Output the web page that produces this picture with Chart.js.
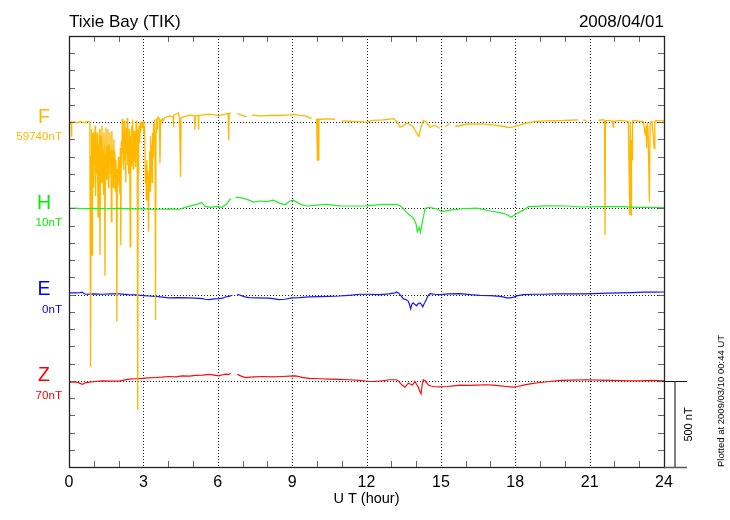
<!DOCTYPE html>
<html><head><meta charset="utf-8">
<script src="https://cdn.jsdelivr.net/npm/chart.js@4.4.0/dist/chart.umd.min.js"></script>
<style>html,body{margin:0;padding:0;background:#fff;}</style>
</head><body>
<canvas id="c" width="730" height="520"></canvas>
<script>
// ---------- text / categories ----------
const stationTitle = 'Tixie Bay (TIK)';
const dateLabel = '2008/04/01';
const axisTitle = 'U T (hour)';
const plottedNote = 'Plotted at 2009/03/10 00:44 UT';
const scaleBarLabel = '500 nT';
const components = ['F', 'H', 'E', 'Z'];
const baseLabels = ['59740nT', '10nT', '0nT', '70nT'];
const baseOffsets = [2000, 1500, 1000, 500];   // nT position of each trace baseline on the y scale
const scaleBarNT = 500;

// ---------- series (UT hour, deviation from baseline in nT; null = data gap) ----------
const fTime = [0,0.05,0.09,0.10,0.12,0.2,0.3,0.4,0.5,0.6,0.7,0.78,0.84,0.87,0.89,0.91,0.93,0.95,0.97,0.99,
1.01,1.03,1.05,1.07,1.09,1.11,1.13,1.15,1.17,1.19,1.21,1.23,1.25,1.27,1.29,1.31,1.33,1.35,1.37,1.39,
1.41,1.43,1.45,1.47,1.49,1.51,1.53,1.55,1.57,1.59,1.61,1.63,1.65,1.67,1.69,1.71,1.73,1.75,1.77,1.79,
1.81,1.83,1.85,1.87,1.89,1.91,1.93,1.95,1.97,1.99,2.01,2.03,2.05,2.07,2.09,2.11,2.13,2.15,2.17,2.19,
2.21,2.23,2.25,2.27,2.29,2.31,2.33,2.35,2.37,2.39,2.41,2.43,2.45,2.47,2.49,2.51,2.53,2.55,2.57,2.59,
2.61,2.63,2.65,2.67,2.69,2.71,2.73,2.75,2.77,2.79,2.81,2.83,2.85,2.87,2.89,2.91,2.93,2.95,2.97,3.00,
3.02,3.05,3.08,3.10,3.12,3.14,3.16,3.18,3.21,3.23,3.25,3.27,3.29,3.31,3.33,3.35,3.37,3.39,3.41,3.43,
3.45,3.47,3.49,3.51,3.53,3.55,3.57,3.59,3.62,3.65,3.67,3.69,3.72,3.76,3.80,3.85,3.94,4.07,4.20,4.21,
4.23,4.41,4.46,4.50,4.52,4.61,4.75,4.88,5.07,5.08,5.10,5.21,5.22,5.24,5.35,5.62,5.83,6.04,6.24,6.42,
6.44,6.46,6.54,6.56,6.79,6.96,7.17,7.19,7.38,7.70,8.10,8.51,8.91,9.05,9.18,9.32,9.59,9.72,9.79,9.81,
9.99,10.02,10.04,10.06,10.08,10.19,10.40,10.73,10.75,11.0,11.47,11.87,12.0,12.27,12.67,13.08,13.22,13.35,13.48,13.62,
13.75,13.89,14.02,14.11,14.19,14.29,14.43,14.56,14.76,14.95,14.97,15.17,15.34,15.36,15.58,16.05,16.58,17.12,17.52,17.79,
18.06,18.46,18.8,19.27,19.94,20.53,20.55,20.75,20.91,20.93,21.35,21.55,21.60,21.62,21.64,21.75,21.93,21.95,21.97,22.23,
22.56,22.62,22.64,22.67,22.69,22.71,22.73,22.76,23.17,23.24,23.27,23.30,23.33,23.36,23.41,23.44,23.48,23.51,23.55,23.60,
23.63,23.71,23.78,24.0];
const fVal = [0,-4,2,-85,-5,3,-2,0,4,-3,2,5,0,-1419,-200,-40,-771,-120,-60,-380,
-140,-250,-20,-430,-190,-300,-60,-260,-549,-130,-300,-40,-771,-220,-80,-350,-20,-260,-160,-420,
-60,-240,-890,-190,-30,-330,-140,-250,-40,-380,-130,-230,-60,-300,-160,-578,-50,-260,-160,-380,
-100,-290,-170,-400,-220,-330,-1158,-270,-380,-200,-350,-240,-420,-150,-713,-110,-250,20,-180,-60,
-280,10,-220,-90,-350,-30,-190,25,-250,-110,-300,-40,-220,-723,-80,-250,-20,-200,15,-270,
-140,-50,-230,-90,-260,10,-170,-40,-1670,-300,-60,-20,-120,0,-60,-10,5,-30,-5,0,
-70,-20,-350,-250,-450,-220,-380,-280,-636,-300,-170,-400,-80,-250,-130,-350,-60,-200,-10,-120,
15,-90,-1148,-60,20,-40,10,30,25,15,-240,-30,10,20,8,25,31,37,30,-27,
40,54,21,-317,25,31,35,41,37,-43,37,39,-43,40,41,46,44,37,46,50,
-104,48,54,null,50,41,31,null,41,37,39,39,43,46,43,39,35,23,25,null,
21,-220,20,-218,17,17,19,17,null,8,4,2,0,10,14,21,4,-29,-21,-6,
-12,-29,-64,-83,-35,10,-2,-29,-19,-35,null,-25,-10,null,-25,-12,-10,-15,-25,-31,
-21,-6,4,8,10,14,null,14,4,null,10,14,10,-654,8,10,5,-29,5,10,
4,-537,0,-537,-100,-218,8,10,4,-73,-20,-151,0,-60,-460,-20,5,8,-50,-151,
5,10,8,8];

const hTime = [0,0.3,0.6,1.0,1.5,2.0,2.5,3.0,3.3,3.7,4.1,4.48,4.68,5.01,5.2,5.35,5.49,5.69,5.96,6.16,
6.36,6.52,6.54,6.72,6.9,7.17,7.44,7.7,7.97,8.24,8.51,8.71,8.91,9.05,9.32,9.59,9.99,10.4,10.93,11.47,
12.0,12.67,13.22,13.35,13.48,13.6,13.69,13.8,13.9,14.0,14.05,14.12,14.18,14.25,14.3,14.36,14.5,14.83,15.03,15.37,
15.9,16.45,16.98,17.39,17.66,17.83,18.06,18.33,18.53,19.27,20.08,20.61,21.42,22.23,23.03,23.84,24.0];
const hVal = [0,2,-2,0,-2,0,-3,-2,-4,-5,-3,-5,6,19,25,35,12,6,12,6,
25,58,null,64,62,54,37,43,39,48,29,21,43,48,25,14,19,23,15,14,
15,23,23,15,0,-20,-33,-45,-58,-90,-135,-110,-139,-80,-48,0,6,-2,-19,-10,
-2,2,-15,-25,-35,-52,-29,-10,10,15,14,8,10,10,6,4,4];

const eTime = [0,0.27,0.45,0.54,0.6,0.67,1.0,1.34,1.7,2.02,2.4,2.69,3.0,3.23,3.6,4.03,4.4,4.84,5.1,5.38,
5.5,5.65,5.85,6.05,6.2,6.3,6.45,6.59,6.62,6.79,6.95,7.1,7.26,7.6,8.06,8.3,8.47,8.7,9.0,9.3,
9.68,10.1,10.48,10.9,11.29,11.74,12.1,12.55,12.9,13.15,13.22,13.3,13.35,13.42,13.49,13.6,13.69,13.74,13.78,13.83,
13.89,13.95,14.02,14.09,14.16,14.22,14.27,14.32,14.36,14.42,14.47,14.52,14.56,14.75,14.97,15.3,15.77,16.2,16.58,17.0,
17.39,17.55,17.66,17.8,17.93,18.1,18.33,18.7,19.14,19.6,20.08,20.6,21.16,21.7,22.23,22.7,23.17,23.6,24.0];
const eVal = [10,10,12,14,6,2,4,2,4,4,0,-2,-6,-8,-12,-19,-17,-19,-21,-23,
-27,-29,-25,-23,-21,-14,-10,-4,null,2,-6,-13,-17,-19,-21,-25,-29,-27,-19,-17,
-13,-12,-10,-8,-4,2,2,0,4,10,15,8,0,-12,-25,-30,-39,-60,-83,-55,
-48,-58,-64,-52,-48,-58,-71,-55,-44,-25,-10,0,6,2,0,4,6,0,-4,-6,
-10,-15,-19,-19,-15,-6,0,2,2,4,4,4,6,8,10,12,14,14,15];

const zTime = [0,0.15,0.27,0.4,0.54,0.65,0.81,1.05,1.34,1.7,2.02,2.2,2.42,2.7,2.96,3.2,3.49,3.75,4.03,4.3,
4.57,4.85,5.11,5.4,5.65,5.85,6.05,6.2,6.32,6.45,6.52,6.55,6.79,6.95,7.12,7.45,7.8,8.2,8.6,8.9,
9.14,9.4,9.68,10.1,10.48,10.9,11.29,11.74,12.1,12.28,12.6,12.95,13.22,13.32,13.42,13.55,13.62,13.69,13.78,13.86,
13.95,14.02,14.09,14.15,14.2,14.25,14.29,14.36,14.43,14.49,14.6,14.7,14.95,15.24,15.5,15.77,16.1,16.45,16.8,17.12,
17.4,17.66,17.93,18.1,18.33,18.6,19.0,19.4,19.81,20.3,20.89,21.4,21.96,22.5,23.04,23.5,24.0];
const zVal = [-10,-8,-6,-12,-21,-12,-8,-4,0,-2,-2,4,10,12,14,17,19,21,25,23,
29,27,31,33,37,33,29,35,39,37,44,null,37,27,19,23,25,23,25,27,
29,20,14,12,10,8,6,2,-4,-4,0,6,6,-6,-23,-37,-25,-14,-20,-25,
-4,-20,-37,-60,-75,-20,6,2,-12,-25,-30,-33,-35,-33,-29,-25,-27,-25,-23,-25,
-29,-33,-37,-33,-25,-18,-10,-4,2,4,6,4,2,0,0,2,0];

const seriesTimes = [fTime, hTime, eTime, zTime];
const seriesValues = [fVal, hVal, eVal, zVal];

// ---------- styles ----------
const compColors = ['#FFB800', '#22EE22', '#1515FF', '#FF0A0A'];
const labelColors = ['#FFB800', '#00EE00', '#0000FF', '#FF0000'];
const lineWidths = [1.3, 1.2, 1.2, 1.2];
const drawOrder = [1, 0, 2, 3];
const FONT = '"Liberation Sans", Arial, Helvetica, sans-serif';

function line(ctx, x1, y1, x2, y2) { ctx.beginPath(); ctx.moveTo(x1, y1); ctx.lineTo(x2, y2); ctx.stroke(); }
function txt(ctx, s, x, y, size, color, align, rot) {
  ctx.save(); ctx.translate(x, y); if (rot) ctx.rotate(rot);
  ctx.font = size + 'px ' + FONT; ctx.fillStyle = color; ctx.textAlign = align || 'left'; ctx.textBaseline = 'alphabetic';
  ctx.fillText(s, 0, 0); ctx.restore();
}

const deco = {
  id: 'deco',
  beforeDatasetsDraw(chart) {
    const { ctx, chartArea: a, scales: { x, y } } = chart;
    ctx.save();
    ctx.strokeStyle = '#222'; ctx.lineWidth = 1; ctx.setLineDash([1, 2]);
    for (let h = 3; h < 24; h += 3) { const px = Math.round(x.getPixelForValue(h)) + 0.5; line(ctx, px, a.top, px, a.bottom); }
    baseOffsets.forEach(v => { const py = Math.round(y.getPixelForValue(v)) + 0.5; line(ctx, a.left, py, a.right, py); });
    ctx.restore();
  },
  afterDatasetsDraw(chart) {
    const { ctx, chartArea: a, scales: { x, y } } = chart;
    ctx.save();
    // inner tick marks
    ctx.strokeStyle = '#666'; ctx.lineWidth = 1;
    for (let v = 100; v < 2500; v += 100) {
      const py = Math.round(y.getPixelForValue(v)) + 0.5;
      line(ctx, a.left, py, a.left + 6, py); line(ctx, a.right - 6, py, a.right, py);
    }
    for (let h = 1; h < 24; h++) {
      if (h % 3 === 0) continue;
      const px = Math.round(x.getPixelForValue(h)) + 0.5;
      line(ctx, px, a.bottom - 6, px, a.bottom); line(ctx, px, a.top, px, a.top + 6);
    }
    // frame
    ctx.strokeStyle = '#222'; ctx.lineWidth = 1.3;
    ctx.strokeRect(Math.round(a.left) + 0.5, Math.round(a.top) + 0.5, Math.round(a.right - a.left), Math.round(a.bottom - a.top));
    // scale bar
    const yb0 = Math.round(y.getPixelForValue(baseOffsets[3])) + 0.5;
    const yb1 = Math.round(y.getPixelForValue(baseOffsets[3] - scaleBarNT)) + 0.5;
    ctx.strokeStyle = '#111'; ctx.lineWidth = 1;
    line(ctx, a.right - 2, yb0, a.right + 23, yb0);
    ctx.strokeStyle = '#555'; ctx.lineWidth = 1.5;
    line(ctx, a.right, yb1, a.right + 23, yb1);
    line(ctx, a.right + 11, yb0, a.right + 11, yb1);
    txt(ctx, scaleBarLabel, a.right + 28, (yb0 + yb1) / 2, 11, '#000', 'center', -Math.PI / 2);
    txt(ctx, plottedNote, 724, a.bottom, 9.5, '#000', 'left', -Math.PI / 2);
    // component labels
    components.forEach((c, i) => {
      const py = y.getPixelForValue(baseOffsets[i]);
      txt(ctx, c, 44, py + 0.5, 19.5, labelColors[i], 'center');
      txt(ctx, baseLabels[i], 62, py + 18, 11.6, labelColors[i], 'right');
    });
    // titles
    txt(ctx, stationTitle, a.left, 27, 17, '#000', 'left');
    txt(ctx, dateLabel, a.right, 27, 17, '#000', 'right');
    ctx.restore();
  }
};

const datasets = components.map((c, i) => ({
  label: c,
  data: seriesTimes[i].map((t, k) => ({ x: t, y: seriesValues[i][k] === null ? null : seriesValues[i][k] + baseOffsets[i] })),
  borderColor: compColors[i],
  borderWidth: lineWidths[i],
  pointRadius: 0,
  tension: 0,
  spanGaps: false,
  order: drawOrder[i]
}));

new Chart(document.getElementById('c').getContext('2d'), {
  type: 'line',
  data: { datasets },
  options: {
    responsive: false,
    animation: false,
    devicePixelRatio: 1,
    layout: { padding: { left: 69, top: 36, right: 66, bottom: 0 } },
    plugins: { legend: { display: false }, tooltip: { enabled: false } },
    scales: {
      x: {
        type: 'linear', min: 0, max: 24,
        ticks: { stepSize: 3, color: '#000', font: { family: FONT, size: 16 }, padding: 5.5, maxRotation: 0, autoSkip: false },
        grid: { display: false, drawTicks: false },
        border: { display: false },
        title: { display: true, text: axisTitle, color: '#000', font: { family: FONT, size: 14.5 }, padding: { top: 0, bottom: 12 } },
        afterFit(s) { s.height = 53; s.paddingLeft = 0; s.paddingRight = 0; }
      },
      y: {
        type: 'linear', min: 0, max: 2500,
        ticks: { display: false, stepSize: 100 },
        grid: { display: false, drawTicks: false },
        border: { display: false },
        afterFit(s) { s.width = 0; }
      }
    }
  },
  plugins: [deco]
});
</script>
</body></html>
